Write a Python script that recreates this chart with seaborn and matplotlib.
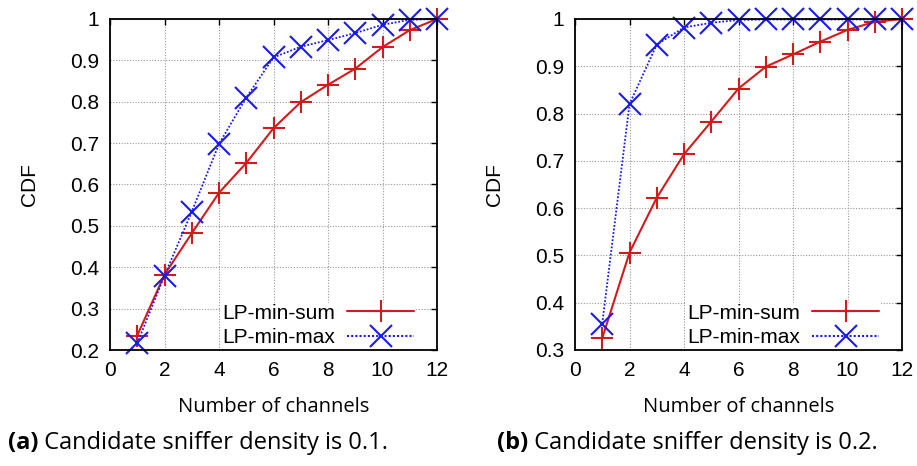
import numpy as np
import pandas as pd
import matplotlib
matplotlib.use("Agg")
import matplotlib.pyplot as plt
import seaborn as sns

channels = [1, 2, 3, 4, 5, 6, 7, 8, 9, 10, 11, 12]
a_min_sum = [0.235, 0.382, 0.482, 0.580, 0.652, 0.736, 0.799, 0.841, 0.880, 0.932, 0.973, 1.0]
a_min_max = [0.216, 0.380, 0.534, 0.698, 0.810, 0.907, 0.933, 0.949, 0.966, 0.986, 0.998, 1.0]
b_min_sum = [0.325, 0.506, 0.622, 0.714, 0.783, 0.853, 0.899, 0.925, 0.952, 0.977, 0.994, 1.0]
b_min_max = [0.356, 0.820, 0.946, 0.982, 0.992, 0.998, 0.999, 0.999, 0.999, 0.999, 0.999, 1.0]
series_names = ["LP-min-sum", "LP-min-max"]
captions = [("(a)", " Candidate sniffer density is 0.1."),
            ("(b)", " Candidate sniffer density is 0.2.")]
x_label = "Number of channels"
y_label = "CDF"
a_yticks = [0.2, 0.3, 0.4, 0.5, 0.6, 0.7, 0.8, 0.9, 1.0]
b_yticks = [0.3, 0.4, 0.5, 0.6, 0.7, 0.8, 0.9, 1.0]
xticks = [0, 2, 4, 6, 8, 10, 12]

sns.set_theme(style="white")
plt.rcParams['font.family'] = ['Liberation Sans', 'DejaVu Sans']
plt.rcParams['text.color'] = 'black'
plt.rcParams['axes.labelcolor'] = 'black'
plt.rcParams['xtick.color'] = 'black'
plt.rcParams['ytick.color'] = 'black'

RED = "#d01c1c"
BLUE = "#1a1aee"
MS = 16

fig = plt.figure(figsize=(9.17, 4.66), dpi=100)
ax_pos = [[110/917, 1-350/466, 327/917, 331/466],
          [575/917, 1-350/466, 327/917, 331/466]]

def ylabel_fmt(v):
    return "1" if abs(v-1) < 1e-9 else f"{v:.1f}"

datasets = [(a_min_sum, a_min_max, a_yticks), (b_min_sum, b_min_max, b_yticks)]
for i, (s1, s2, yt) in enumerate(datasets):
    ax = fig.add_axes(ax_pos[i])
    df = pd.DataFrame({"x": channels * 2, "y": s1 + s2,
                       "series": [series_names[0]] * 12 + [series_names[1]] * 12})
    sns.lineplot(data=df, x="x", y="y", hue="series", style="series", ax=ax,
                 palette={series_names[0]: RED, series_names[1]: BLUE},
                 markers={series_names[0]: "+", series_names[1]: "x"},
                 dashes={series_names[0]: "", series_names[1]: (1, 1)},
                 markersize=MS, markeredgewidth=1.5, linewidth=1.5)
    for line, c in zip(ax.get_lines()[:2], [RED, BLUE]):
        line.set_markeredgecolor(c)
        line.set_markerfacecolor(c)
        line.set_clip_on(False)
    ax.get_lines()[1].set_linewidth(1.3)
    ax.set_xlim(0, 12)
    ax.set_ylim(yt[0], 1.0)
    ax.set_xticks(xticks)
    ax.set_yticks(yt)
    ax.set_yticklabels([ylabel_fmt(v) for v in yt])
    ax.grid(True, color="#999999", linestyle=(0, (1, 1.5)), linewidth=0.8)
    ax.tick_params(axis="both", direction="in", length=4, width=1, color="black",
                   labelsize=15, top=True, right=True, pad=8, labelcolor="black")
    for sp in ax.spines.values():
        sp.set_color("black")
        sp.set_linewidth(1.3)
        sp.set_zorder(3)
    ax.set_xlabel(x_label, fontsize=14.5, family=["Open Sans", "DejaVu Sans"], labelpad=12)
    ax.set_ylabel(y_label, fontsize=15, labelpad=22)
    handles, labels = ax.get_legend_handles_labels()
    for h, c in zip(handles, [RED, BLUE]):
        h.set_markeredgecolor(c)
        h.set_markersize(MS)
        h.set_markeredgewidth(1.5)
    leg = ax.legend(handles, labels, loc="lower right", bbox_to_anchor=(0.965, -0.025),
                    frameon=True, markerfirst=False, fontsize=15, handlelength=3.2,
                    borderpad=0.05, labelspacing=0.25, handletextpad=0.6,
                    fancybox=False)
    leg.get_frame().set_edgecolor("white")
    leg.get_frame().set_facecolor("white")
    leg.get_frame().set_alpha(1.0)
    leg.set_zorder(2.8)

    cx = [8/917, 497/917][i]
    t1 = fig.text(cx, 1-443/466, captions[i][0], fontsize=17, fontweight="bold",
                  family=["Open Sans", "DejaVu Sans"], va="center", ha="left")
    fig.canvas.draw()
    bb = t1.get_window_extent()
    fig.text(bb.x1/917, 1-443/466, captions[i][1], fontsize=17,
             family=["Open Sans", "DejaVu Sans"], va="center", ha="left")

fig.savefig("out.png", dpi=100)
